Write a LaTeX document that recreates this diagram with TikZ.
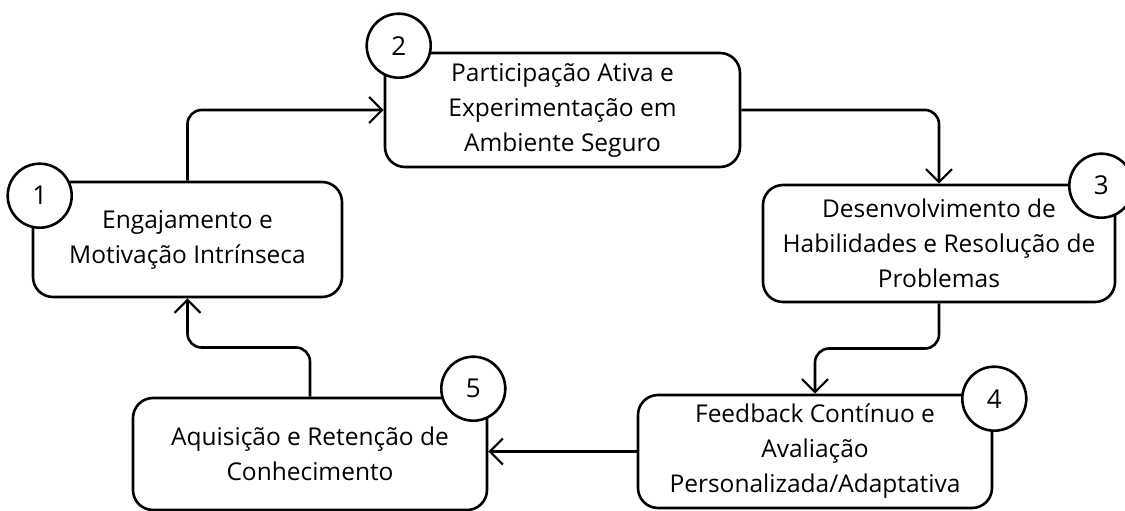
\documentclass[tikz,border=0pt]{standalone}
\usepackage{fontspec}
\setmainfont{Open Sans}
\usetikzlibrary{arrows.meta,calc}
\tikzset{
  stepbox/.style={draw, line width=2.6pt, rounded corners=20pt, align=center,
    font=\fontsize{24.5}{35}\selectfont, inner sep=0pt},
  numcirc/.style={draw, circle, fill=white, line width=2.6pt, minimum size=64pt,
    inner sep=0pt, font=\fontsize{26}{28}\selectfont},
  arr/.style={line width=2.6pt, rounded corners=14pt,
    -{Straight Barb[length=13pt,width=26pt,line width=2.2pt]}}
}
\begin{document}
\begin{tikzpicture}[x=1pt,y=-1pt]
\useasboundingbox (0,0) rectangle (1125,511);
\node[stepbox, minimum width=309pt, minimum height=115pt] (b1) at (187.5,239.5)
  {Engajamento e\\Motivação Intrínseca};
\node[stepbox, minimum width=355pt, minimum height=114pt] (b2) at (562.5,110)
  {Participação Ativa e\\Experimentação em\\Ambiente Seguro};
\node[stepbox, minimum width=352pt, minimum height=117pt] (b3) at (939,243.5)
  {Desenvolvimento de\\Habilidades e Resolução de\\Problemas};
\node[stepbox, minimum width=354pt, minimum height=113pt] (b4) at (815,451.5)
  {Feedback Contínuo e\\Avaliação\\Personalizada/Adaptativa};
\node[stepbox, minimum width=354pt, minimum height=112pt] (b5) at (310,454)
  {Aquisição e Retenção de\\Conhecimento};

\node[numcirc] (c1) at ($(b1.north west)+(8,15)$) {1};
\node[numcirc] (c2) at ($(b2.north west)+(15,-6)$) {2};
\node[numcirc] (c3) at ($(b3.north east)+(-15,2)$) {3};
\node[numcirc] (c4) at ($(b4.north east)+(1,5)$) {4};
\node[numcirc] (c5) at ($(b5.north east)+(-15,-8)$) {5};

\draw[arr] (b1.north) |- (b2.west);
\draw[arr] (b2.east) -| (b3.north);
\coordinate (m34) at ($(b3.south)!0.5!(b4.north)$);
\draw[arr] (b3.south) |- (m34) -| (b4.north);
\draw[arr] (b4.west) -- (b5.east |- b4.west);
\coordinate (m51) at ($(b5.north)!0.5!(b1.south)$);
\draw[arr] (b5.north) |- (m51) -| (b1.south);
\end{tikzpicture}
\end{document}
